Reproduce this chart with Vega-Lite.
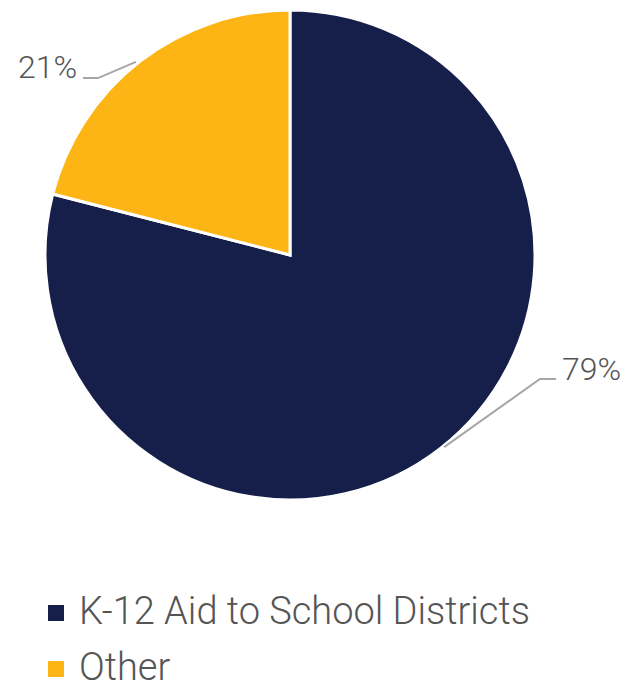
{
  "$schema": "https://vega.github.io/schema/vega-lite/v6.json",
  "width": 580,
  "height": 510,
  "padding": 0,
  "autosize": {"type": "pad"},
  "background": "white",
  "config": {"view": {"stroke": null}},
  "layer": [
    {
      "data": {"values": [
        {"category": "K-12 Aid to School Districts", "share": 79},
        {"category": "Other", "share": 21}
      ]},
      "mark": {"type": "arc", "outerRadius": 245, "stroke": "white", "strokeWidth": 3},
      "encoding": {
        "theta": {"field": "share", "type": "quantitative", "stack": true},
        "color": {
          "field": "category",
          "type": "nominal",
          "scale": {"domain": ["K-12 Aid to School Districts", "Other"], "range": ["#161E4A", "#FDB515"]},
          "legend": {
            "title": null,
            "orient": "none",
            "legendX": 37,
            "legendY": 594,
            "direction": "vertical",
            "symbolType": "square",
            "symbolSize": 256,
            "symbolStrokeWidth": 0,
            "symbolOpacity": 1,
            "labelFontSize": 38,
            "labelFont": "Roboto",
            "labelFontWeight": 300,
            "labelColor": "#555555",
            "labelOffset": 4,
            "rowPadding": 18,
            "labelLimit": 600
          }
        }
      }
    },
    {
      "data": {"values": [
        {"label": "21%", "step": 1, "x": -0.845, "y": 0.722},
        {"label": "21%", "step": 2, "x": -0.784, "y": 0.722},
        {"label": "21%", "step": 3, "x": -0.629, "y": 0.788},
        {"label": "79%", "step": 1, "x": 0.629, "y": -0.784},
        {"label": "79%", "step": 2, "x": 1.020, "y": -0.506},
        {"label": "79%", "step": 3, "x": 1.086, "y": -0.506}
      ]},
      "mark": {"type": "line", "color": "#A6A6A6", "strokeWidth": 2},
      "encoding": {
        "x": {"field": "x", "type": "quantitative", "scale": {"domain": [-1.1837, 1.1837]}, "axis": null},
        "y": {"field": "y", "type": "quantitative", "scale": {"domain": [-1.0408, 1.0408]}, "axis": null},
        "detail": {"field": "label"},
        "order": {"field": "step"}
      }
    },
    {
      "data": {"values": [
        {"label": "21%", "x": -0.869, "y": 0.722}
      ]},
      "mark": {"type": "text", "fontSize": 32, "font": "Roboto", "fontWeight": 300, "color": "#555555", "baseline": "alphabetic", "align": "right"},
      "encoding": {
        "x": {"field": "x", "type": "quantitative", "scale": {"domain": [-1.1837, 1.1837]}, "axis": null},
        "y": {"field": "y", "type": "quantitative", "scale": {"domain": [-1.0408, 1.0408]}, "axis": null},
        "text": {"field": "label"}
      }
    },
    {
      "data": {"values": [
        {"label": "79%", "x": 1.110, "y": -0.510}
      ]},
      "mark": {"type": "text", "fontSize": 32, "font": "Roboto", "fontWeight": 300, "color": "#555555", "baseline": "alphabetic", "align": "left"},
      "encoding": {
        "x": {"field": "x", "type": "quantitative", "scale": {"domain": [-1.1837, 1.1837]}, "axis": null},
        "y": {"field": "y", "type": "quantitative", "scale": {"domain": [-1.0408, 1.0408]}, "axis": null},
        "text": {"field": "label"}
      }
    }
  ]
}
